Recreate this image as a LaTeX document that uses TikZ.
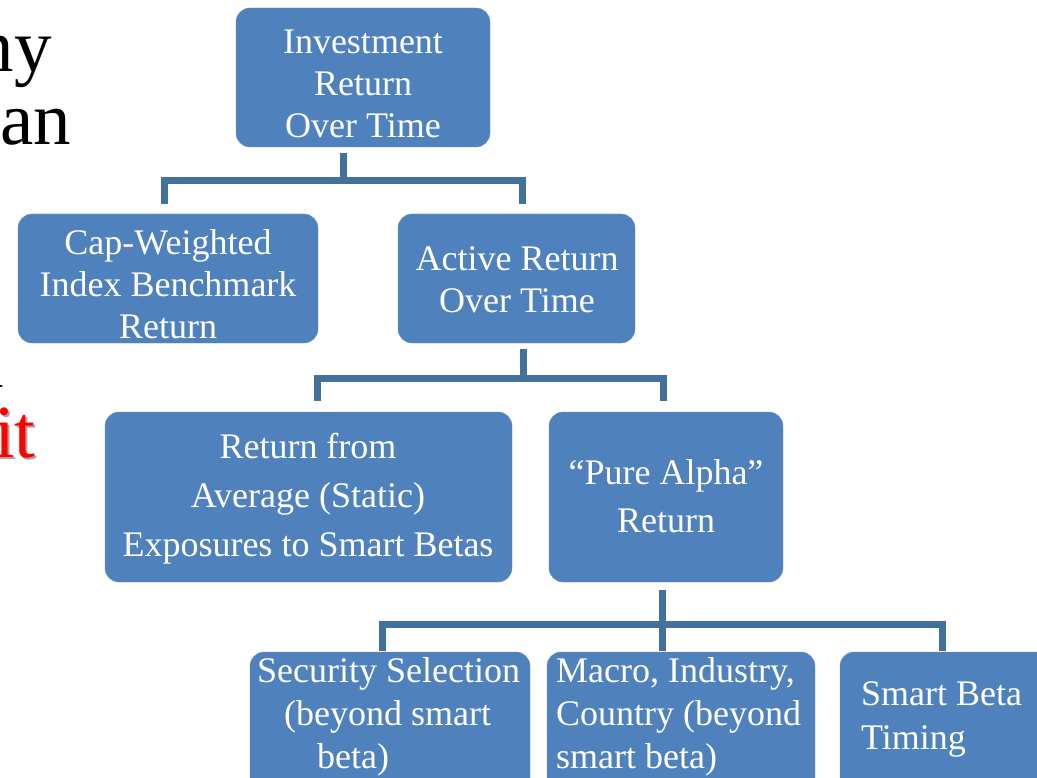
\documentclass[tikz,border=0pt]{standalone}
\usepackage{fontspec}
\setmainfont{Liberation Serif}
\definecolor{boxblue}{HTML}{4F81BD}
\definecolor{linkblue}{HTML}{41719C}
\begin{document}
\begin{tikzpicture}[x=1pt,y=-1pt,
  box/.style={fill=boxblue, draw=boxblue!85!white, rounded corners=14pt, inner sep=0pt},
  txt/.style={text=white, font=\fontsize{36}{42}\selectfont, align=center, inner sep=0pt},
  frag/.style={font=\fontsize{75}{80}\selectfont, inner sep=0pt},
  conn/.style={draw=linkblue, line width=7pt}]
\useasboundingbox[fill=white] (0,0) rectangle (1037,778);

% fragments of slide text at the left edge
\node[frag, anchor=base east] (f1) at (52,72) {ny};
\node[frag, anchor=base west] (f2) at (0,145) {an};
\node[frag, anchor=base east] (f3) at (4,387) {n};
\node[frag, anchor=base east, text=black!35] (f4s) at (38,459) {it};
\node[frag, anchor=base east, text=red] (f4) at (36,457) {it};

% boxes
\node[box, minimum width=254pt, minimum height=139pt] (inv) at (363,77.5) {};
\node[box, minimum width=300pt, minimum height=129pt] (cap) at (168,278.5) {};
\node[box, minimum width=237pt, minimum height=129pt] (act) at (516.5,278.5) {};
\node[box, minimum width=407pt, minimum height=170pt] (ret) at (308.5,497) {};
\node[box, minimum width=234pt, minimum height=170pt] (pure) at (666,497) {};
\node[box, minimum width=280pt, minimum height=148pt] (sec) at (390,726) {};
\node[box, minimum width=268pt, minimum height=148pt] (mac) at (681,726) {};
\node[box, minimum width=220pt, minimum height=148pt] (smt) at (950,726) {};

% texts
\node[txt] (inv-t) at (363,84) {Investment\\Return\\Over Time};
\node[txt] (cap-t) at (168,284) {Cap-Weighted\\Index Benchmark\\Return};
\node[txt] (act-t) at (517,280) {Active Return\\Over Time};
\node[txt, font=\fontsize{36}{49}\selectfont] (ret-t) at (308,499) {Return from\\Average (Static)\\Exposures to Smart Betas};
\node[txt, font=\fontsize{36}{48}\selectfont] (pure-t) at (666,496) {“Pure Alpha”\\Return};
\node[txt, align=left, anchor=west, font=\fontsize{36}{43}\selectfont] (sec-t) at (257,717) {Security Selection\\\hspace*{27pt}(beyond smart\\\hspace*{60pt}beta)};
\node[txt, align=left, anchor=west, font=\fontsize{36}{43}\selectfont] (mac-t) at (556,717) {Macro, Industry,\\Country (beyond\\smart beta)};
\node[txt, align=left, anchor=west, font=\fontsize{36}{44}\selectfont] (smt-t) at (861,719) {Smart Beta\\Timing};

% connectors
\coordinate (j1) at (343,181);
\coordinate (d1a) at (164,204);
\coordinate (d1b) at (522,204);
\draw[conn] (inv.south -| j1) ++(0,6) -- (j1);
\draw[conn] (d1a) |- (j1) -| (d1b);

\coordinate (j2) at (523,378);
\coordinate (d2a) at (317,401);
\coordinate (d2b) at (663,401);
\draw[conn] (act.south -| j2) ++(0,6) -- (j2);
\draw[conn] (d2a) |- (j2) -| (d2b);

\coordinate (j3) at (662,624);
\coordinate (d3a) at (382,651);
\coordinate (d3b) at (942,651);
\coordinate (d3c) at (662,651);
\draw[conn] (pure.south -| j3) ++(0,8) -- (d3c);
\draw[conn] (d3a) |- (j3) -| (d3b);
\end{tikzpicture}
\end{document}
